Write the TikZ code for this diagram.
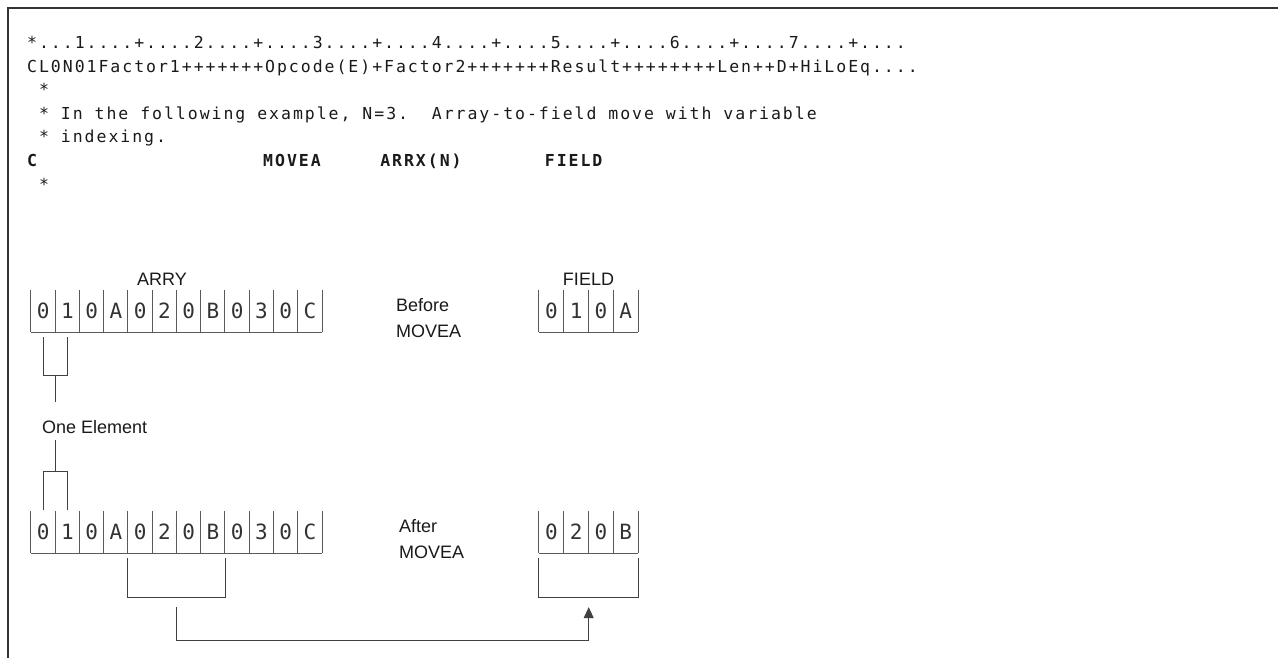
\documentclass[tikz,border=0pt]{standalone}
\usepackage{fontspec}
\usetikzlibrary{arrows.meta,calc}
\newfontfamily\codefont[LetterSpace=11.92]{DejaVu Sans Mono}
\newfontfamily\labfont{Liberation Sans}
\newfontfamily\digfont{DejaVu Sans Mono}
\definecolor{ink}{HTML}{1A1A1A}
\tikzset{
  codeline/.style={font={\codefont\fontsize{16.5}{18}\selectfont\spaceskip=11.9pt\relax}, inner sep=0pt, anchor=base west, text=ink},
  boldline/.style={codeline, font={\codefont\bfseries\fontsize{16.5}{18}\selectfont\spaceskip=11.9pt\relax}},
  lbl/.style={font={\labfont\fontsize{18}{20}\selectfont}, inner sep=0pt, text=ink},
  cellbox/.style={minimum width=24.25pt, minimum height=42pt, inner sep=0pt, font={\digfont\fontsize{21}{22}\selectfont}, text=black!80},
  fcellbox/.style={cellbox, minimum width=24.75pt},
  cellline/.style={draw=black!65, line width=0.9pt},
  brk/.style={draw=black!75, line width=1pt},
  frame/.style={draw=black!80, line width=1.5pt},
  arr/.style={brk, -{Triangle[length=11pt,width=10pt]}}
}
\begin{document}
\begin{tikzpicture}[x=1pt,y=-1pt]
\useasboundingbox (0,0) rectangle (1278,658);
\fill[white] (0,0) rectangle (1278,658);
\draw[frame] (8,658) -- (8,8) -- (1278,8);

% code lines
\node[codeline] (l1) at (27,49) {*...1....+....2....+....3....+....4....+....5....+....6....+....7....+....};
\node[codeline] (l2) at (27,72.5) {CL0N01Factor1+++++++Opcode(E)+Factor2+++++++Result++++++++Len++D+HiLoEq....};
\node[codeline] (l3) at (27,96) {~*};
\node[codeline] (l4) at (27,119.5) {~*~In~the~following~example,~N=3.~~Array-to-field~move~with~variable};
\node[codeline] (l5) at (27,143) {~*~indexing.};
\node[boldline] (l6) at (27,166.5) {C~~~~~~~~~~~~~~~~~~~MOVEA~~~~~ARRX(N)~~~~~~~FIELD};
\node[codeline] (l7) at (27,190) {~*};

% labels
\node[lbl, anchor=base] (arry) at (162,285) {ARRY};
\node[lbl, anchor=base] (fieldlbl) at (588.5,285) {FIELD};
\node[lbl, anchor=base west] (before) at (396,311) {Before};
\node[lbl, anchor=base west] (mv1) at (396,337) {MOVEA};
\node[lbl, anchor=base west] (after) at (399,532) {After};
\node[lbl, anchor=base west] (mv2) at (399,558) {MOVEA};
\node[lbl, anchor=base west] (one) at (42,433) {One Element};

% array cells
\foreach \c [count=\i] in {0,1,0,A,0,2,0,B,0,3,0,C}{
  \node[cellbox] (a\i) at ({31+(\i-0.5)*24.25},311) {\c};
  \node[cellbox] (b\i) at ({31+(\i-0.5)*24.25},532) {\c};
}
\foreach \c [count=\i] in {0,1,0,A}{
  \node[fcellbox] (f\i) at ({539+(\i-0.5)*24.75},311) {\c};
}
\foreach \c [count=\i] in {0,2,0,B}{
  \node[fcellbox] (g\i) at ({539+(\i-0.5)*24.75},532) {\c};
}
% cell outlines (open top)
\foreach \p in {a,b}{
  \draw[cellline] (\p1.south west) -- (\p12.south east);
  \foreach \i in {1,...,12}{ \draw[cellline] (\p\i.north west) -- (\p\i.south west); }
  \draw[cellline] (\p12.north east) -- (\p12.south east);
}
\foreach \p in {f,g}{
  \draw[cellline] (\p1.south west) -- (\p4.south east);
  \foreach \i in {1,...,4}{ \draw[cellline] (\p\i.north west) -- (\p\i.south west); }
  \draw[cellline] (\p4.north east) -- (\p4.south east);
}

% one element brackets
\draw[brk] ($(a1.south)+(0,5)$) -- ($(a1.south)+(0,43)$) -- ($(a2.south)+(0,43)$) -- ($(a2.south)+(0,5)$);
\coordinate (ub) at ($(a1.south east)+(0,43)$);
\draw[brk] (ub) -- ($(ub)+(0,27)$);
\coordinate (lb) at ($(b1.north east)+(0,-39)$);
\draw[brk] ($(lb)+(0,-32)$) -- (lb);
\draw[brk] ($(b1.north)+(0,-1)$) -- ($(b1.north)+(0,-39)$) -- ($(b2.north)+(0,-39)$) -- ($(b2.north)+(0,-1)$);

% result brackets
\draw[brk] ($(b5.south west)+(0,5)$) -- ($(b5.south west)+(0,44)$) -- ($(b8.south east)+(0,44)$) -- ($(b8.south east)+(0,5)$);
\draw[brk] ($(g1.south west)+(0,5)$) -- ($(g1.south west)+(0,44)$) -- ($(g4.south east)+(0,44)$) -- ($(g4.south east)+(0,5)$);
\coordinate (ab) at ($(b6.south east)+(0,54)$);
\coordinate (fb) at ($(g2.south east)+(0,54)$);
\draw[arr] (ab) -- ++(0,33) -| (fb);
\end{tikzpicture}
\end{document}
